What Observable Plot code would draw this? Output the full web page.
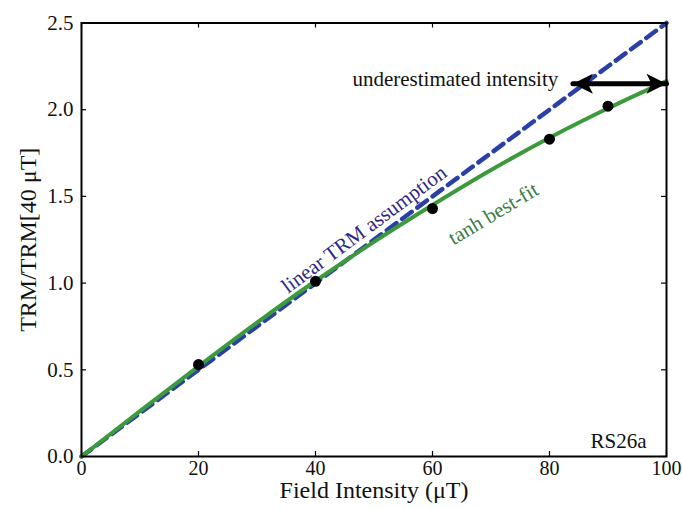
<!DOCTYPE html>
<html>
<head>
<meta charset="utf-8">
<script src="https://cdn.jsdelivr.net/npm/d3@7"></script>
<script src="https://cdn.jsdelivr.net/npm/@observablehq/plot@0.6"></script>
<style>
  html, body { margin: 0; padding: 0; background: #fff; }
  svg { font-family: "Liberation Serif", "DejaVu Serif", serif; }
</style>
</head>
<body>
<div id="chart"></div>
<script>
// ---- data ----
const xTicks = [0, 20, 40, 60, 80, 100];
const yTicks = [0, 0.5, 1.0, 1.5, 2.0, 2.5];
const yTickLabels = ["0.0", "0.5", "1.0", "1.5", "2.0", "2.5"];

// measured TRM ratios
const fieldX = [20, 40, 60, 80, 90];
const trmY = [0.53, 1.01, 1.43, 1.83, 2.02];

// tanh best-fit curve
const fitX = [0, 10, 20, 30, 40, 50, 60, 70, 80, 90, 100];
const fitY = [0, 0.262, 0.52, 0.772, 1.012, 1.238, 1.45, 1.652, 1.838, 2.008, 2.165];

// linear TRM assumption
const linX = [0, 100];
const linY = [0, 2.5];

// underestimated-intensity arrow
const arrowX = [84, 100];
const arrowY = [2.15, 2.15];

// annotations
const annoText = ["underestimated intensity", "linear TRM assumption", "tanh best-fit", "RS26a"];
const annoX = [81.5, 48.3, 70.4, 96.6];
const annoY = [2.15, 1.31, 1.40, 0.09];

const xLabel = "Field Intensity (μT)";
const yLabel = "TRM/TRM[40 μT]";

const fit = fitX.map((x, i) => ({x, y: fitY[i]}));
const lin = linX.map((x, i) => ({x, y: linY[i]}));
const pts = fieldX.map((x, i) => ({x, y: trmY[i]}));
const arrow = arrowX.map((x, i) => ({x, y: arrowY[i]}));

const W = 682, H = 509;
const mL = 81, mR = 16, mT = 22.5, mB = 53;
const innerH = H - mT - mB;
const innerW = W - mL - mR;

// filled arrow heads with notched back, tip at origin
const headRight = {draw(ctx) { ctx.moveTo(0, 0); ctx.lineTo(-20, -10); ctx.lineTo(-15, 0); ctx.lineTo(-20, 10); ctx.closePath(); }};
const headLeft = {draw(ctx) { ctx.moveTo(0, 0); ctx.lineTo(20, -10); ctx.lineTo(15, 0); ctx.lineTo(20, 10); ctx.closePath(); }};

const chart = Plot.plot({
  width: W,
  height: H,
  marginLeft: mL,
  marginRight: mR,
  marginTop: mT,
  marginBottom: mB,
  style: {fontFamily: "'Liberation Serif', 'DejaVu Serif', serif", fontSize: "21px", background: "#fff", overflow: "visible"},
  x: {domain: [0, 100], ticks: xTicks},
  y: {domain: [0, 2.5], ticks: yTicks},
  marks: [
    // inward ticks on all four sides
    Plot.tickX(xTicks, {x: d => d, insetTop: innerH - 5, stroke: "#000", strokeWidth: 1.2}),
    Plot.tickX(xTicks, {x: d => d, insetBottom: innerH - 5, stroke: "#000", strokeWidth: 1.2}),
    Plot.tickY(yTicks, {y: d => d, insetRight: innerW - 5, stroke: "#000", strokeWidth: 1.2}),
    Plot.tickY(yTicks, {y: d => d, insetLeft: innerW - 5, stroke: "#000", strokeWidth: 1.2}),
    Plot.axisX({ticks: xTicks, tickSize: 0, tickPadding: 4, fontSize: 20, fill: "#111", label: null}),
    Plot.axisY({ticks: yTicks, tickSize: 0, tickPadding: 8, fontSize: 21, fill: "#111", tickFormat: (d, i) => yTickLabels[i], label: null}),
    // axis titles
    Plot.text([xLabel], {text: d => d, frameAnchor: "bottom", dy: 34, fontSize: 24, fill: "#111", lineAnchor: "middle", textAnchor: "middle"}),
    Plot.text([yLabel], {text: d => d, frameAnchor: "left", dx: -53, rotate: -90, fontSize: 24, fill: "#111", lineAnchor: "middle", textAnchor: "middle"}),
    // linear assumption (dashed)
    Plot.line(lin, {x: "x", y: "y", stroke: "#2a40a6", strokeWidth: 4.5, strokeDasharray: "12,7"}),
    // tanh best fit
    Plot.line(fit, {x: "x", y: "y", stroke: "#3c9a3c", strokeWidth: 4, curve: "monotone-x"}),
    // data points
    Plot.dot(pts, {x: "x", y: "y", r: 5.5, fill: "#000", stroke: "none"}),
    // arrow
    Plot.line(arrow, {x: "x", y: "y", stroke: "#000", strokeWidth: 5}),
    Plot.dot([arrow[0]], {x: "x", y: "y", symbol: headLeft, fill: "#000", stroke: "none"}),
    Plot.dot([arrow[1]], {x: "x", y: "y", symbol: headRight, fill: "#000", stroke: "none"}),
    // annotations
    Plot.text([0], {x: annoX[0], y: annoY[0], text: () => annoText[0], textAnchor: "end", fontSize: 21, fill: "#111", dy: -4}),
    Plot.text([0], {x: annoX[1], y: annoY[1], text: () => annoText[1], textAnchor: "middle", fontSize: 21, fill: "#2e2a80", rotate: -36.5}),
    Plot.text([0], {x: annoX[2], y: annoY[2], text: () => annoText[2], textAnchor: "middle", fontSize: 21, fill: "#3a7d45", rotate: -31}),
    Plot.text([0], {x: annoX[3], y: annoY[3], text: () => annoText[3], textAnchor: "end", fontSize: 21, fill: "#111"}),
    Plot.frame({stroke: "#000", strokeWidth: 2})
  ]
});
document.getElementById("chart").appendChild(chart);
</script>
</body>
</html>
